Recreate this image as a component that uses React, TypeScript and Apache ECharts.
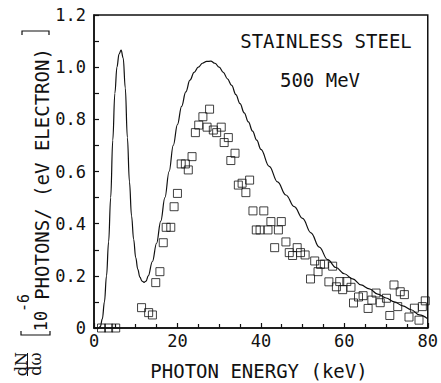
import React, { useEffect, useRef } from "react";
import * as echarts from "echarts";

// Theoretical curve (keV, 10^-6 photons/(eV electron))
const curveEnergy = [0, 1, 1.5, 2, 2.5, 3, 3.5, 4, 4.5, 5, 5.5, 6, 6.5, 7, 7.5, 8, 8.5, 9, 9.5, 10, 10.5, 11, 11.5, 12, 12.5, 13, 14, 15, 16, 17, 18, 19, 20, 21, 22, 23, 24, 25, 26, 27, 28, 29, 30, 31, 32, 33, 34, 35, 36, 37, 38, 39, 40, 42, 44, 46, 48, 50, 52, 54, 56, 58, 60, 62, 64, 66, 68, 70, 72, 74, 76, 78, 80];
const curveIntensity = [0, 0, 0.005, 0.035, 0.1, 0.2, 0.33, 0.5, 0.72, 0.9, 1.0, 1.05, 1.065, 1.035, 0.92, 0.73, 0.56, 0.43, 0.34, 0.27, 0.225, 0.195, 0.18, 0.175, 0.18, 0.2, 0.255, 0.325, 0.41, 0.5, 0.6, 0.7, 0.78, 0.85, 0.905, 0.95, 0.98, 1.0, 1.015, 1.022, 1.023, 1.015, 1.0, 0.98, 0.955, 0.93, 0.895, 0.86, 0.825, 0.79, 0.755, 0.72, 0.685, 0.62, 0.56, 0.51, 0.465, 0.42, 0.365, 0.31, 0.262, 0.232, 0.208, 0.188, 0.165, 0.15, 0.13, 0.115, 0.1, 0.085, 0.07, 0.05, 0.035];

// Measured points
const measEnergy = [1.8, 3.5, 5.2, 11.4, 13.1, 14.0, 14.8, 15.8, 16.6, 17.3, 18.4, 19.2, 20.0, 20.9, 21.9, 22.6, 23.5, 24.3, 25.1, 26.1, 27.7, 27.1, 28.6, 29.4, 30.5, 31.2, 32.2, 32.8, 33.8, 34.6, 35.5, 36.4, 37.3, 38.1, 40.7, 38.9, 39.8, 41.7, 44.2, 42.4, 44.9, 43.3, 46.0, 46.8, 47.6, 48.7, 49.5, 50.6, 51.9, 52.9, 53.7, 54.3, 55.2, 57.2, 56.3, 58.1, 58.9, 60.6, 59.6, 61.6, 62.2, 63.4, 64.5, 65.7, 66.6, 67.6, 68.6, 70.1, 70.9, 71.9, 72.8, 73.4, 74.4, 75.5, 76.8, 77.9, 78.7, 79.4];
const measIntensity = [0, 0, 0, 0.078, 0.059, 0.05, 0.174, 0.216, 0.327, 0.386, 0.386, 0.465, 0.516, 0.629, 0.629, 0.606, 0.657, 0.749, 0.778, 0.81, 0.839, 0.77, 0.759, 0.749, 0.77, 0.711, 0.73, 0.642, 0.67, 0.548, 0.555, 0.519, 0.567, 0.449, 0.449, 0.376, 0.376, 0.376, 0.376, 0.408, 0.408, 0.308, 0.33, 0.289, 0.278, 0.308, 0.289, 0.28, 0.188, 0.257, 0.216, 0.244, 0.245, 0.237, 0.177, 0.158, 0.178, 0.178, 0.147, 0.156, 0.096, 0.119, 0.124, 0.075, 0.107, 0.134, 0.097, 0.114, 0.048, 0.165, 0.082, 0.139, 0.128, 0.042, 0.076, 0.03, 0.082, 0.104];

const INK = "#111";
const MONO = "DejaVu Sans Mono";

export default function App() {
  const ref = useRef<HTMLDivElement>(null);
  useEffect(() => {
    const chart = echarts.init(ref.current!, null, { renderer: "svg" });
    const rotText = (text: string, x: number, y: number, size: number, family = MONO) => ({
      type: "text",
      x,
      y,
      rotation: Math.PI / 2,
      style: {
        text,
        font: `${size}px "${family}"`,
        fill: INK,
        textAlign: "center",
        textVerticalAlign: "middle",
        align: "center",
        verticalAlign: "middle",
      },
    });
    const plainText = (text: string, x: number, y: number, size: number) => ({
      type: "text",
      x,
      y,
      style: {
        text,
        font: `${size}px "${MONO}"`,
        fill: INK,
        textAlign: "center",
        textVerticalAlign: "middle",
        align: "center",
        verticalAlign: "middle",
      },
    });
    chart.setOption({
      animation: false,
      backgroundColor: "#fff",
      grid: {
        left: 94,
        right: 9,
        top: 15,
        bottom: 55,
        show: true,
        borderColor: INK,
        borderWidth: 1.5,
      },
      xAxis: {
        type: "value",
        min: 0,
        max: 80,
        interval: 20,
        axisLine: { show: true, onZero: false, lineStyle: { color: INK, width: 1.5 } },
        axisTick: { show: true, inside: true, length: 5, lineStyle: { color: INK, width: 1.2 } },
        minorTick: { show: true, splitNumber: 4, length: 4, lineStyle: { color: INK, width: 1.2 } },
        splitLine: { show: false },
        axisLabel: { color: INK, fontFamily: MONO, fontSize: 17, margin: 4 },
      },
      yAxis: {
        type: "value",
        min: 0,
        max: 1.2,
        interval: 0.2,
        axisLine: { show: true, onZero: false, lineStyle: { color: INK, width: 1.5 } },
        axisTick: { show: true, inside: true, length: 5, lineStyle: { color: INK, width: 1.2 } },
        minorTick: { show: true, splitNumber: 2, length: 5, lineStyle: { color: INK, width: 1.2 } },
        splitLine: { show: false },
        axisLabel: {
          color: INK,
          fontFamily: MONO,
          fontSize: 17,
          margin: 8,
          formatter: (v: number) => (v === 0 ? "0" : v.toFixed(1)),
        },
      },
      series: [
        {
          type: "line",
          data: curveEnergy.map((e, i) => [e, curveIntensity[i]]),
          showSymbol: false,
          symbol: "none",
          smooth: 0.4,
          smoothMonotone: "x",
          lineStyle: { color: INK, width: 1.2 },
          z: 2,
        },
        {
          type: "scatter",
          data: measEnergy.map((e, i) => [e, measIntensity[i]]),
          symbol: "rect",
          symbolSize: 8,
          itemStyle: { color: "rgba(0,0,0,0)", borderColor: INK, borderWidth: 1 },
          z: 3,
        },
      ],
      graphic: [
        plainText("STAINLESS STEEL", 326, 41, 19),
        plainText("500 MeV", 320, 80, 19),
        plainText("PHOTON ENERGY (keV)", 259, 371, 19),
        rotText("dN", 21, 364, 16, "DejaVu Serif"),
        {
          type: "line",
          shape: { x1: 27.5, y1: 353, x2: 27.5, y2: 376 },
          style: { stroke: INK, lineWidth: 1 },
        },
        rotText("dω", 35, 364, 16, "DejaVu Serif"),
        {
          type: "polyline",
          shape: { points: [[21, 331], [21, 335], [50, 335], [50, 331]] },
          style: { stroke: INK, lineWidth: 1.2, fill: "none" },
        },
        rotText("10", 41, 321, 17),
        rotText("-6", 24, 303, 15),
        rotText("PHOTONS/ (eV ELECTRON)", 42, 174, 19),
        {
          type: "polyline",
          shape: { points: [[22, 35], [22, 31], [49, 31], [49, 35]] },
          style: { stroke: INK, lineWidth: 1.2, fill: "none" },
        },
      ],
    });
    return () => chart.dispose();
  }, []);
  return (
    <div
      ref={ref}
      style={{ position: "fixed", left: 0, top: 0, width: 441, height: 383 }}
    />
  );
}
